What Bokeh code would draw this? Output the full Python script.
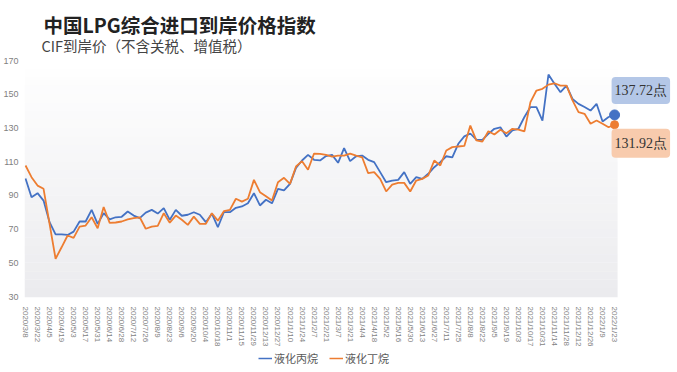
import math
from bokeh.plotting import figure
from bokeh.layouts import column
from bokeh.models import Range1d, FixedTicker, Label, Legend, LegendItem, BoxAnnotation
from bokeh.embed import file_html
from bokeh.resources import INLINE

TITLE = "中国LPG综合进口到岸价格指数"
SUBTITLE = "CIF到岸价（不含关税、增值税）"
UNIT = "点"
SERIES_NAMES = ["液化丙烷", "液化丁烷"]
Y_TICKS = [30, 50, 70, 90, 110, 130, 150, 170]

TICK_LABELS = [
    "2020/3/8", "2020/3/22", "2020/4/5", "2020/4/19", "2020/5/3", "2020/5/17",
    "2020/5/31", "2020/6/14", "2020/6/28", "2020/7/12", "2020/7/26", "2020/8/9",
    "2020/8/23", "2020/9/6", "2020/9/20", "2020/10/4", "2020/10/18", "2020/11/1",
    "2020/11/15", "2020/11/29", "2020/12/13", "2020/12/27", "2021/1/10", "2021/1/24",
    "2021/2/7", "2021/2/21", "2021/3/7", "2021/3/21", "2021/4/4", "2021/4/18",
    "2021/5/2", "2021/5/16", "2021/5/30", "2021/6/13", "2021/6/27", "2021/7/11",
    "2021/7/25", "2021/8/8", "2021/8/22", "2021/9/5", "2021/9/19", "2021/10/3",
    "2021/10/17", "2021/10/31", "2021/11/14", "2021/11/28", "2021/12/12", "2021/12/26",
    "2022/1/9", "2022/1/23",
]

# 液化丙烷 (weekly)
PROPANE = [
    100.0, 88.9, 91.3, 86.9, 74.1, 66.8, 66.8, 66.5, 68.5, 74.5,
    74.5, 81.4, 73.1, 79.4, 75.7, 77.0, 77.3, 80.4, 78.0, 76.5,
    79.8, 81.4, 79.2, 82.4, 75.5, 81.4, 77.9, 78.5, 80.0, 78.5,
    74.1, 79.1, 71.1, 80.0, 80.0, 82.6, 83.4, 85.3, 91.3, 84.0,
    87.4, 85.3, 93.9, 92.9, 96.8, 106.3, 110.7, 114.0, 111.1, 110.7,
    113.3, 114.0, 109.3, 118.0, 110.3, 113.2, 113.6, 111.1, 109.7, 103.8,
    97.8, 98.8, 99.2, 103.8, 96.8, 100.8, 99.8, 102.8, 106.7, 109.7,
    113.2, 112.6, 120.6, 125.0, 126.7, 123.0, 122.9, 126.5, 129.5, 130.4,
    124.9, 128.5, 129.5, 136.5, 142.4, 142.4, 134.4, 161.7, 156.2, 151.2,
    155.1, 147.2, 144.3, 142.4, 140.3, 144.3, 133.8, 136.5, 137.72,
]

# 液化丁烷 (weekly)
BUTANE = [
    107.7, 100.8, 95.8, 93.9, 73.1, 52.4, 59.2, 66.2, 64.8, 71.5,
    72.1, 77.0, 70.5, 83.1, 73.7, 73.9, 74.5, 75.7, 76.5, 77.0,
    70.2, 71.5, 71.9, 79.4, 73.8, 78.0, 75.5, 72.5, 77.4, 73.1,
    73.1, 79.4, 75.0, 80.6, 81.4, 88.0, 86.3, 88.0, 99.2, 91.9,
    89.5, 86.9, 97.8, 100.4, 96.8, 107.1, 110.3, 105.2, 114.8, 114.6,
    114.0, 113.0, 113.6, 113.6, 114.8, 113.6, 112.6, 103.2, 103.8, 99.8,
    92.3, 96.4, 97.4, 97.4, 92.3, 98.8, 99.8, 101.8, 110.7, 107.7,
    116.6, 118.6, 119.0, 119.3, 131.4, 122.6, 121.9, 128.0, 126.1, 128.9,
    126.9, 129.5, 129.0, 128.0, 145.3, 152.2, 153.2, 155.7, 156.5, 155.1,
    155.1, 146.3, 139.4, 138.4, 132.5, 134.4, 132.5, 130.4, 131.92,
]

BLUE = "#4472C4"
ORANGE = "#ED7D31"
W = 676
H_MAIN, H_LEG = 349, 22

n = len(PROPANE)
xs = list(range(n))
tick_pos = list(range(0, n, 2))

fig = figure(width=W, height=H_MAIN, output_backend="svg", toolbar_location=None,
             x_range=Range1d(-0.17, 108.3), y_range=Range1d(29.41, 205.6),
             min_border_left=23, min_border_right=0, min_border_top=0,
             min_border_bottom=52, background_fill_color="white",
             border_fill_color="white", outline_line_color=None)

# soft vertical gradient behind the data area
nb = 28
y0, y1 = Y_TICKS[0], Y_TICKS[-1]
for k in range(nb):
    lo = y0 + (y1 - y0) * k / nb
    hi = y0 + (y1 - y0) * (k + 1) / nb
    fig.add_layout(BoxAnnotation(bottom=(lo if k else None), top=hi, right=n - 0.5,
                                 fill_color="#ebebee", fill_alpha=1 - (k + 0.5) / nb,
                                 line_color=None, level="underlay"))

r1 = fig.line(xs, PROPANE, line_color=BLUE, line_width=1.8)
r2 = fig.line(xs, BUTANE, line_color=ORANGE, line_width=1.8)
fig.scatter([n - 1], [PROPANE[-1]], size=10, color=BLUE)
fig.scatter([n - 1], [BUTANE[-1]], size=8, color=ORANGE)

fig.add_layout(Label(x=n - 1, y=PROPANE[-1], x_offset=-3, y_offset=11,
                     text=f"{PROPANE[-1]:.2f}{UNIT}", text_align="left", text_baseline="bottom",
                     text_font="Liberation Serif", text_font_size="14px", text_color="#333333",
                     background_fill_color="#B4C7E7", border_radius=4, padding=(3, 6)))
fig.add_layout(Label(x=n - 1, y=BUTANE[-1], x_offset=-3, y_offset=-4,
                     text=f"{BUTANE[-1]:.2f}{UNIT}", text_align="left", text_baseline="top",
                     text_font="Liberation Serif", text_font_size="14px", text_color="#333333",
                     background_fill_color="#F8CBAD", border_radius=4, padding=(3, 7)))

fig.add_layout(Label(x=19, y=273, x_units="screen", y_units="screen", text=TITLE,
                     text_font="Noto Sans CJK SC", text_font_style="bold",
                     text_font_size="19.5px", text_color="#222222", text_baseline="middle"))
fig.add_layout(Label(x=17, y=252, x_units="screen", y_units="screen", text=SUBTITLE,
                     text_font="Noto Sans CJK SC", text_font_size="14.5px",
                     text_color="#444444", text_baseline="middle"))

fig.xaxis.ticker = FixedTicker(ticks=tick_pos)
fig.xaxis.major_label_overrides = {t: lab for t, lab in zip(tick_pos, TICK_LABELS)}
fig.xaxis.major_label_orientation = -math.pi / 2
fig.xaxis.major_label_text_font_size = "8px"
fig.xaxis.major_label_text_color = "#7f7f7f"
fig.xaxis.major_label_text_font = "Liberation Sans"
fig.xaxis.major_label_standoff = 3

fig.yaxis.ticker = FixedTicker(ticks=Y_TICKS)
fig.yaxis.major_label_text_font_size = "9px"
fig.yaxis.major_label_text_color = "#7f7f7f"
fig.yaxis.major_label_text_font = "Liberation Sans"
fig.yaxis.major_label_standoff = 0

for ax in (fig.xaxis, fig.yaxis):
    ax.axis_line_color = None
    ax.major_tick_line_color = None
    ax.minor_tick_line_color = None

fig.xgrid.grid_line_color = None
fig.ygrid.grid_line_color = None

# legend strip below the chart (sample lines kept outside its visible range)
leg = figure(width=W, height=H_LEG, output_backend="svg", toolbar_location=None,
             x_range=Range1d(0, 1), y_range=Range1d(0, 1),
             x_axis_location=None, y_axis_location=None,
             min_border_left=0, min_border_right=0, min_border_top=0, min_border_bottom=0,
             outline_line_color=None, background_fill_color="white", border_fill_color="white")
leg.xgrid.grid_line_color = None
leg.ygrid.grid_line_color = None
lr1 = leg.line([0, 1], [-5, -5], line_color=BLUE, line_width=1.5)
lr2 = leg.line([0, 1], [-5, -5], line_color=ORANGE, line_width=1.5)
legend = Legend(items=[LegendItem(label=SERIES_NAMES[0], renderers=[lr1]),
                       LegendItem(label=SERIES_NAMES[1], renderers=[lr2])],
                orientation="horizontal", location=(234, 5),
                label_text_font="Noto Sans CJK SC", label_text_font_size="11px",
                label_text_color="#595959", glyph_width=14, glyph_height=10,
                label_standoff=2, spacing=11, padding=2, margin=0,
                border_line_color=None, background_fill_alpha=0)
leg.add_layout(legend)

p = column(fig, leg, spacing=0)

open("out.html", "w").write(file_html(p, INLINE))
